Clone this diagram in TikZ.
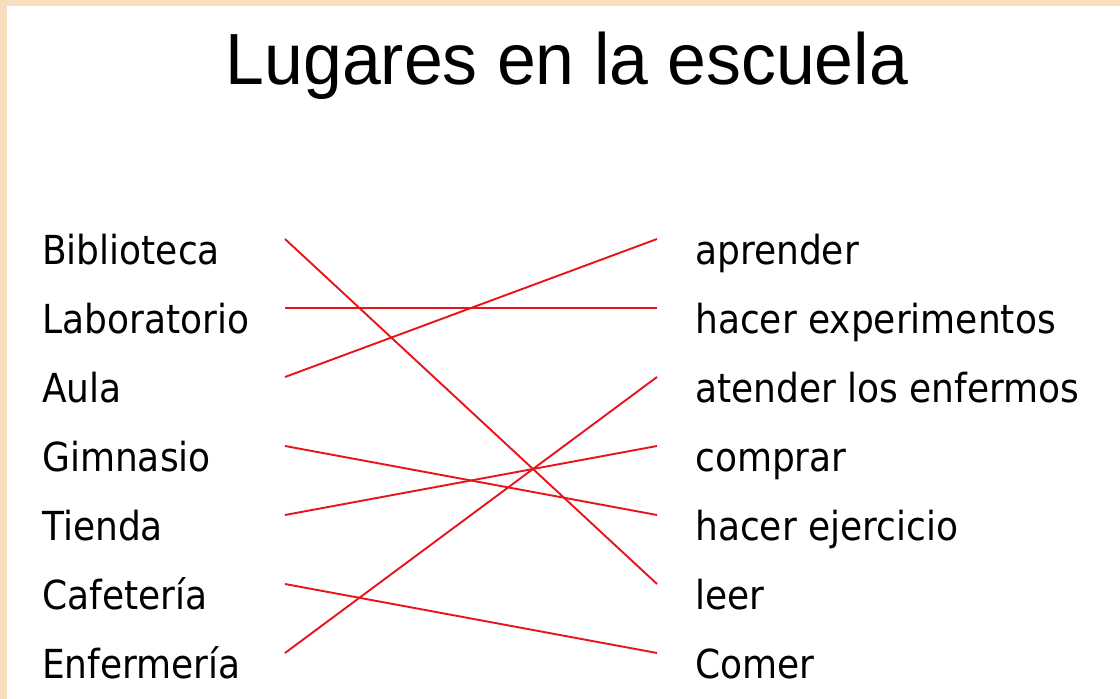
\documentclass[tikz,border=0pt]{standalone}
\usepackage{fontspec}
\setmainfont{DejaVu Sans}
\newfontfamily\listfont[FakeStretch=0.9]{DejaVu Sans}
\newfontfamily\titlefont[FakeStretch=0.962]{Liberation Sans}
\definecolor{beige}{HTML}{F8DEBE}
\definecolor{linered}{HTML}{E8141A}
\tikzset{
  item/.style={inner sep=0pt, font=\listfont\fontsize{40}{48}\selectfont, text=black},
  leftitem/.style={item, anchor=base west},
  rightitem/.style={item, anchor=base west},
  link/.style={draw=linered, line width=1.9pt}
}
\begin{document}
\begin{tikzpicture}[x=1pt,y=1pt]
\useasboundingbox (0,0) rectangle (1120,699);
\fill[white] (0,0) rectangle (1120,699);
\fill[beige] (0,0) rectangle (7,699);
\fill[beige] (0,693) rectangle (1120,699);
\node[inner sep=0pt, anchor=base, font=\titlefont\fontsize{72.5}{80}\selectfont] (title) at (567,614) {Lugares en la escuela};
% left column
\foreach \t [count=\i] in {Biblioteca,Laboratorio,Aula,Gimnasio,Tienda,Cafetería,Enfermería}{
  \node[leftitem] (l\i) at (42,{699-265-69*(\i-1)}) {\t};
  \coordinate (la\i) at (285,{699-239-69*(\i-1)});
}
% right column
\foreach \t [count=\i] in {aprender,hacer experimentos,atender los enfermos,comprar,hacer ejercicio,leer,Comer}{
  \node[rightitem] (r\i) at (695,{699-265-69*(\i-1)}) {\t};
  \coordinate (ra\i) at (657,{699-239-69*(\i-1)});
}
\draw[link] (la1) -- (ra6);
\draw[link] (la2) -- (ra2);
\draw[link] (la3) -- (ra1);
\draw[link] (la4) -- (ra5);
\draw[link] (la5) -- (ra4);
\draw[link] (la6) -- (ra7);
\draw[link] (la7) -- (ra3);
\end{tikzpicture}
\end{document}
